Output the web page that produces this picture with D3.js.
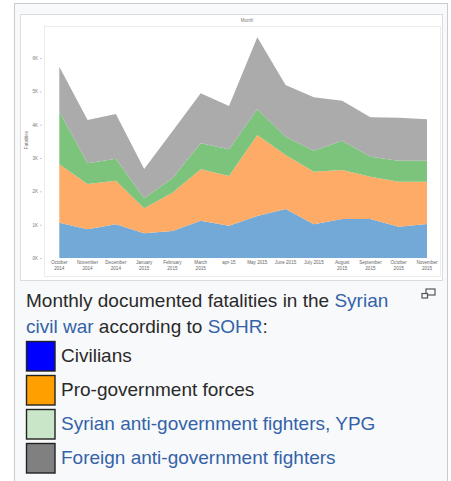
<!DOCTYPE html>
<html>
<head>
<meta charset="utf-8">
<title>SOHR monthly fatalities</title>
<script src="https://d3js.org/d3.v7.min.js"></script>
<style>
  body { margin: 0; background: #fff; }
  svg text { font-family: "Liberation Sans", Arial, sans-serif; }
</style>
</head>
<body>
<script>
// months on the x axis (two lines each)
var months = [
  ["October", "2014"], ["November", "2014"], ["December", "2014"], ["January", "2015"],
  ["February", "2015"], ["March", "2015"], ["apr-15"], ["May 2015"], ["June 2015"],
  ["July 2015"], ["August", "2015"], ["September", "2015"], ["October", "2015"], ["November", "2015"]
];
var civilians     = [1060, 860, 1010, 740, 810, 1120, 970, 1260, 1470, 1010, 1170, 1170, 940, 1020];
var proGovernment = [1750, 1360, 1310, 750, 1150, 1540, 1490, 2430, 1620, 1580, 1470, 1270, 1350, 1270];
var syrianRebels  = [1580, 620, 660, 300, 430, 780, 800, 770, 550, 630, 880, 600, 630, 630];
var foreignRebels = [1350, 1300, 1340, 880, 1410, 1500, 1300, 2160, 1550, 1600, 1200, 1180, 1290, 1240];
var yTicks = [0, 1000, 2000, 3000, 4000, 5000, 6000];

var seriesKeys = ["civ", "pro", "syr", "for"];
var areaColors = ["#72a9d6", "#fdab67", "#7cc47c", "#ababab"];
var legendItems = [
  { label: "Civilians", color: "#0000ff", link: false },
  { label: "Pro-government forces", color: "#ffa000", link: false },
  { label: "Syrian anti-government fighters, YPG", color: "#c9e6c9", link: true },
  { label: "Foreign anti-government fighters", color: "#808080", link: true }
];

var W = 451, H = 481;
var svg = d3.select("body").append("svg").attr("width", W).attr("height", H);

// wikipedia-style thumb box
svg.append("rect").attr("x", 14.5).attr("y", 3.5).attr("width", 433).attr("height", 490)
  .attr("fill", "#f8f9fa").attr("stroke", "#c8ccd1");
svg.append("rect").attr("x", 20.5).attr("y", 14.5).attr("width", 422).attr("height", 266)
  .attr("fill", "#fff").attr("stroke", "#dcdcdc");
svg.append("rect").attr("x", 44.5).attr("y", 26.5).attr("width", 396).attr("height", 250)
  .attr("fill", "none").attr("stroke", "#ececec");

var table = civilians.map(function(d, i) {
  return { i: i, civ: d, pro: proGovernment[i], syr: syrianRebels[i], "for": foreignRebels[i] };
});
var stacked = d3.stack().keys(seriesKeys)(table);

var x = d3.scaleLinear().domain([0, months.length - 1]).range([59.3, 427]);
var y = d3.scaleLinear().domain([0, 6000]).range([258, 58]);

var area = d3.area()
  .x(function(d) { return x(d.data.i); })
  .y0(function(d) { return y(d[0]); })
  .y1(function(d) { return y(d[1]); });

svg.append("g").selectAll("path")
  .data(stacked)
  .enter().append("path")
  .attr("d", area)
  .attr("fill", function(d, i) { return areaColors[i]; });

// y axis
var yAxis = svg.append("g").attr("transform", "translate(42,0)")
  .call(d3.axisLeft(y).tickValues(yTicks).tickSize(2).tickPadding(2)
    .tickFormat(function(d) { return (d / 1000) + "K"; }));
yAxis.select(".domain").remove();
yAxis.selectAll("line").attr("stroke", "#ccc");
yAxis.selectAll("text").attr("font-size", 4.5).attr("fill", "#777");

// x axis labels
var xl = svg.append("g").selectAll("text")
  .data(months)
  .enter().append("text")
  .attr("x", function(d, i) { return x(i); })
  .attr("y", 264)
  .attr("text-anchor", "middle")
  .attr("font-size", 4.6)
  .attr("fill", "#666");
xl.each(function(d) {
  var t = d3.select(this);
  d.forEach(function(s, k) {
    t.append("tspan").attr("x", t.attr("x")).attr("dy", k ? 6 : 0).text(s);
  });
});

svg.append("text").attr("x", 247).attr("y", 22).attr("text-anchor", "middle")
  .attr("font-size", 4.5).attr("fill", "#777").text("Month");
svg.append("text").attr("transform", "translate(28,140) rotate(-90)")
  .attr("text-anchor", "middle").attr("font-size", 4.5).attr("fill", "#777").text("Fatalities");

// caption
var linkColor = "#3462a9", textColor = "#2a2a2a";
var cap = svg.append("text").attr("font-size", 19).attr("fill", textColor);
var line1 = cap.append("tspan").attr("x", 26).attr("y", 307);
line1.append("tspan").text("Monthly documented fatalities in the ");
line1.append("tspan").attr("fill", linkColor).text("Syrian");
var line2 = cap.append("tspan").attr("x", 26).attr("y", 333);
line2.append("tspan").attr("fill", linkColor).text("civil war");
line2.append("tspan").text(" according to ");
line2.append("tspan").attr("fill", linkColor).text("SOHR");
line2.append("tspan").text(":");

// enlarge icon
var icon = svg.append("g").attr("fill", "none").attr("stroke", "#555").attr("stroke-width", 1.2);
icon.append("rect").attr("x", 426).attr("y", 289).attr("width", 9).attr("height", 6);
icon.append("rect").attr("x", 422).attr("y", 293.5).attr("width", 5.5).attr("height", 4.5).attr("fill", "#f8f9fa");

// legend
var leg = svg.append("g").selectAll("g")
  .data(legendItems)
  .enter().append("g")
  .attr("transform", function(d, i) { return "translate(0," + (341 + i * 34) + ")"; });
leg.append("rect").attr("x", 26.5).attr("y", 0.5).attr("width", 28.5).attr("height", 29.5)
  .attr("fill", function(d) { return d.color; })
  .attr("stroke", "#222").attr("stroke-width", 1.4);
leg.append("text").attr("x", 61).attr("y", 21).attr("font-size", 19)
  .attr("fill", function(d) { return d.link ? linkColor : textColor; })
  .text(function(d) { return d.label; });
</script>
</body>
</html>
